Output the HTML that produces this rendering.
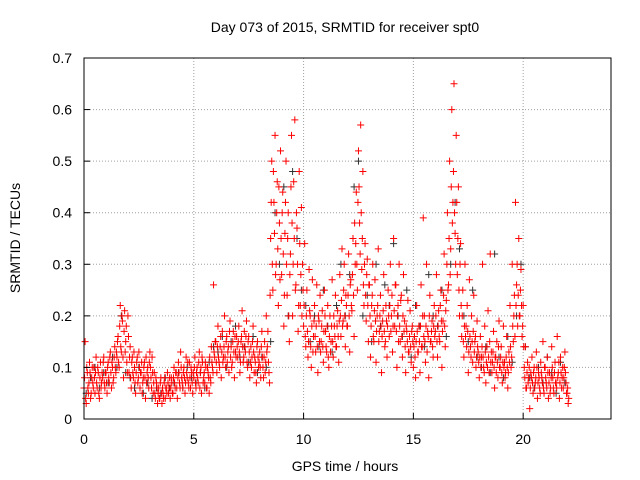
<!DOCTYPE html>
<html><head><meta charset="utf-8"><style>
body{margin:0;background:#fff;}
svg{display:block;font-family:"Liberation Sans","DejaVu Sans",sans-serif;}
</style></head><body>
<svg id="chart" width="640" height="480" viewBox="0 0 640 480" xmlns="http://www.w3.org/2000/svg">
<rect width="640" height="480" fill="#fff"/>
<text x="345" y="32" font-size="14" text-anchor="middle" fill="#000">Day 073 of 2015, SRMTID for receiver spt0</text>
<text transform="translate(20,238) rotate(-90)" font-size="14" text-anchor="middle" fill="#000">SRMTID / TECUs</text>
<text x="345" y="471" font-size="14" text-anchor="middle" fill="#000">GPS time / hours</text>
<g id="grid"></g>
<g id="black"></g>
<g id="red"></g>
<g id="axes"></g>
</svg>
<script>
const xTicks=[0,5,10,15,20];
const yTicks=[0,0.1,0.2,0.3,0.4,0.5,0.6,0.7];
const yTickLabels=["0","0.1","0.2","0.3","0.4","0.5","0.6","0.7"];
const redStart=0, redStep=0.05;
const redValues=[
.06,.15,.03,.09,.05,.11,.04,.08,.07,.10,.05,.12,.06,.09,.04,.11,.07,.08,.12,.06,
.09,.05,.11,.07,.13,.06,.10,.08,.14,.09,.12,.16,.10,.22,.13,.19,.08,.21,.15,.11,
.20,.09,.14,.06,.12,.08,.10,.05,.11,.07,.13,.06,.09,.05,.08,.11,.04,.07,.10,.06,
.13,.08,.12,.05,.09,.04,.07,.03,.06,.04,.08,.03,.05,.07,.04,.06,.09,.05,.08,.06,
.07,.05,.10,.06,.09,.04,.11,.07,.13,.08,.06,.10,.05,.12,.08,.07,.11,.06,.09,.05,
.08,.12,.06,.10,.07,.13,.09,.05,.11,.08,.07,.10,.06,.09,.05,.08,.14,.10,.26,.12,
.15,.09,.18,.11,.14,.08,.17,.12,.20,.10,.16,.13,.09,.19,.14,.11,.17,.08,.13,.16,
.12,.18,.09,.15,.21,.11,.17,.13,.19,.10,.16,.08,.14,.12,.18,.09,.11,.07,.15,.10,
.13,.08,.17,.10,.12,.09,.20,.14,.11,.07,.35,.50,.25,.42,.55,.30,.46,.22,.38,.52,
.28,.44,.18,.36,.50,.24,.40,.15,.32,.55,.20,.46,.58,.26,.37,.17,.48,.22,.41,.30,
.18,.34,.14,.25,.12,.29,.20,.10,.27,.16,.22,.13,.26,.09,.19,.24,.15,.21,.11,.25,
.17,.13,.22,.10,.20,.15,.27,.12,.18,.24,.14,.21,.11,.28,.16,.33,.19,.30,.14,.22,
.18,.32,.13,.27,.21,.35,.16,.30,.44,.25,.52,.38,.57,.29,.48,.22,.34,.19,.31,.15,
.26,.12,.22,.30,.15,.27,.11,.20,.33,.17,.24,.09,.19,.28,.14,.22,.12,.25,.16,.30,
.20,.13,.35,.18,.26,.10,.22,.30,.15,.24,.12,.28,.19,.09,.17,.23,.13,.21,.11,.18,
.10,.16,.08,.22,.13,.18,.09,.26,.14,.39,.20,.11,.30,.17,.08,.24,.15,.19,.12,.22,
.17,.28,.12,.21,.15,.25,.10,.19,.32,.14,.23,.40,.26,.50,.33,.60,.42,.65,.36,.55,
.28,.45,.20,.34,.16,.25,.12,.30,.18,.22,.09,.27,.14,.20,.11,.24,.15,.10,.19,.13,
.08,.16,.12,.30,.10,.18,.07,.14,.21,.09,.32,.13,.11,.17,.06,.12,.15,.08,.19,.10,
.14,.07,.18,.11,.09,.16,.06,.13,.22,.10,.30,.15,.24,.42,.26,.18,.35,.20,.29,.16,
.22,.10,.14,.06,.11,.08,.02,.09,.12,.05,.10,.07,.13,.04,.09,.06,.11,.08,.15,.05,
.10,.07,.12,.04,.09,.06,.14,.08,.05,.11,.07,.16,.09,.04,.12,.06,.10,.08,.13,.07,
.05,.03];
const red2Start=0.025, red2Step=0.05;
const red2Values=[
.08,.04,.10,.06,.07,.09,.05,.10,.06,.08,.09,.07,.10,.05,.08,.06,.09,.11,.07,.09,
.07,.10,.08,.12,.09,.11,.07,.12,.10,.13,.15,.11,.18,.14,.20,.12,.17,.13,.18,.09,
.16,.12,.08,.11,.09,.13,.07,.09,.12,.08,.10,.09,.11,.07,.10,.08,.12,.09,.08,.11,
.10,.06,.09,.07,.05,.08,.06,.05,.04,.07,.05,.06,.04,.08,.06,.05,.07,.06,.04,.08,
.05,.08,.07,.09,.06,.08,.09,.06,.10,.07,.09,.08,.07,.09,.11,.06,.08,.10,.07,.09,
.10,.07,.09,.08,.11,.06,.10,.12,.07,.09,.11,.06,.10,.08,.12,.07,.11,.09,.13,.15,
.11,.14,.12,.10,.16,.13,.11,.14,.12,.15,.11,.14,.17,.12,.10,.15,.13,.16,.12,.14,
.15,.13,.11,.16,.14,.12,.14,.16,.11,.15,.13,.11,.10,.15,.13,.12,.09,.14,.12,.11,
.10,.14,.12,.08,.15,.11,.13,.17,.09,.24,.42,.30,.48,.36,.28,.40,.33,.45,.27,.35,
.40,.32,.24,.42,.30,.35,.20,.28,.45,.38,.30,.35,.25,.40,.30,.22,.34,.28,.20,.25,
.22,.16,.20,.17,.15,.21,.14,.18,.13,.19,.16,.18,.14,.20,.15,.13,.18,.14,.17,.20,
.14,.18,.12,.16,.13,.18,.15,.20,.16,.14,.18,.16,.19,.20,.23,.18,.25,.20,.24,.18,
.24,.20,.26,.22,.28,.24,.38,.34,.30,.42,.45,.32,.40,.35,.26,.30,.24,.28,.22,.26,
.20,.18,.24,.16,.21,.19,.17,.22,.15,.20,.18,.16,.21,.17,.15,.19,.18,.20,.22,.17,
.24,.18,.21,.26,.17,.20,.15,.18,.23,.16,.20,.17,.14,.18,.15,.13,.16,.14,.17,.15,
.14,.12,.15,.17,.13,.15,.18,.14,.20,.16,.15,.18,.13,.16,.20,.15,.17,.14,.18,.16,
.20,.15,.18,.16,.22,.19,.17,.24,.18,.21,.30,.25,.35,.28,.45,.38,.48,.40,.30,.42,
.35,.25,.30,.22,.20,.15,.18,.16,.14,.17,.13,.16,.12,.15,.17,.13,.16,.12,.14,.11,
.12,.10,.14,.12,.09,.13,.11,.10,.12,.15,.11,.09,.13,.10,.12,.09,.11,.14,.10,.12,
.09,.11,.10,.08,.12,.10,.09,.11,.14,.12,.18,.20,.16,.22,.30,.24,.20,.25,.22,.18,
.14,.08,.06,.09,.07,.10,.06,.08,.07,.09,.06,.08,.10,.07,.08,.05,.09,.07,.06,.10,
.08,.06,.09,.07,.05,.08,.10,.06,.09,.07,.06,.08,.11,.07,.09,.08,.06,.10,.09,.05,
.06,.04];
const blackStart=0.1, blackStep=0.2;
const blackValues=[
.05,.08,.10,.06,.09,.07,.12,.10,.20,.09,
.08,.06,.10,.05,.07,.04,.06,.05,.08,.06,
.07,.09,.06,.10,.08,.07,.09,.06,.11,.14,
.13,.16,.10,.15,.18,.12,.14,.11,.16,.09,
.12,.10,.15,.40,.30,.45,.20,.48,.35,.25,
.22,.15,.20,.14,.25,.18,.13,.22,.30,.20,
.28,.45,.50,.20,.24,.15,.30,.18,.26,.22,
.34,.20,.16,.25,.12,.22,.18,.14,.28,.20,
.18,.25,.16,.30,.42,.33,.20,.15,.25,.12,
.10,.14,.09,.32,.12,.08,.16,.11,.20,.30,
.14,.08,.06,.10,.07,.12,.09,.05,.11,.07];

const L=84,R=611,T=58,B=419, XMAX=24, YMAX=0.7;
const xs=v=>L+(R-L)*v/XMAX;
const ys=v=>B-(B-T)*v/YMAX;
const NS="http://www.w3.org/2000/svg";
function mk(tag,parent){const e=document.createElementNS(NS,tag);parent.appendChild(e);return e;}
const grid=document.getElementById('grid'), axes=document.getElementById('axes');
xTicks.forEach((t,i)=>{
  const x=xs(t);
  if(t>0){const g=mk('line',grid);
    
    
    g.setAttribute('x1',x);g.setAttribute('x2',x);g.setAttribute('y1',T);g.setAttribute('y2',B);
    g.setAttribute('stroke','#a0a0a0');g.setAttribute('stroke-dasharray','1,2');}
  const tk=mk('line',axes);
  
  
  tk.setAttribute('x1',x);tk.setAttribute('x2',x);tk.setAttribute('y1',B);tk.setAttribute('y2',B-6);tk.setAttribute('stroke','#000');
  const lb=mk('text',axes);
  
  
  lb.setAttribute('x',x);lb.setAttribute('y',444);lb.setAttribute('font-size','14');lb.setAttribute('text-anchor','middle');
  lb.textContent=String(t);
});
yTicks.forEach((t,i)=>{
  const y=ys(t);
  if(t>0&&t<YMAX){const g=mk('line',grid);
    
    
    g.setAttribute('x1',L);g.setAttribute('x2',R);g.setAttribute('y1',y);g.setAttribute('y2',y);
    g.setAttribute('stroke','#a0a0a0');g.setAttribute('stroke-dasharray','1,2');}
  const tk=mk('line',axes);
  
  
  tk.setAttribute('x1',L);tk.setAttribute('x2',L+6);tk.setAttribute('y1',y);tk.setAttribute('y2',y);tk.setAttribute('stroke','#000');
  const lb=mk('text',axes);
  
  
  lb.setAttribute('x',L-12);lb.setAttribute('y',y+5);lb.setAttribute('font-size','14');lb.setAttribute('text-anchor','end');
  lb.textContent=yTickLabels[i];
});
const frame=mk('rect',axes);


frame.setAttribute('x',L);frame.setAttribute('y',T);frame.setAttribute('width',R-L);frame.setAttribute('height',B-T);
frame.setAttribute('fill','none');frame.setAttribute('stroke','#000');
function plus(g,x,y,c){
  const p=mk('path',g);
  
  
  p.setAttribute('d',`M${x-3.5} ${y}H${x+3.5}M${x} ${y-3.5}V${y+3.5}`);
  p.setAttribute('stroke',c);p.setAttribute('stroke-width','1');p.setAttribute('fill','none');
}
const bg=document.getElementById('black'), rg=document.getElementById('red');
blackValues.forEach((v,i)=>plus(bg,xs(blackStart+i*blackStep),ys(v),'#333'));
redValues.forEach((v,i)=>plus(rg,xs(redStart+i*redStep),ys(v),'#ff0000'));
red2Values.forEach((v,i)=>plus(rg,xs(red2Start+i*red2Step),ys(v),'#ff0000'));
</script>
</body></html>
